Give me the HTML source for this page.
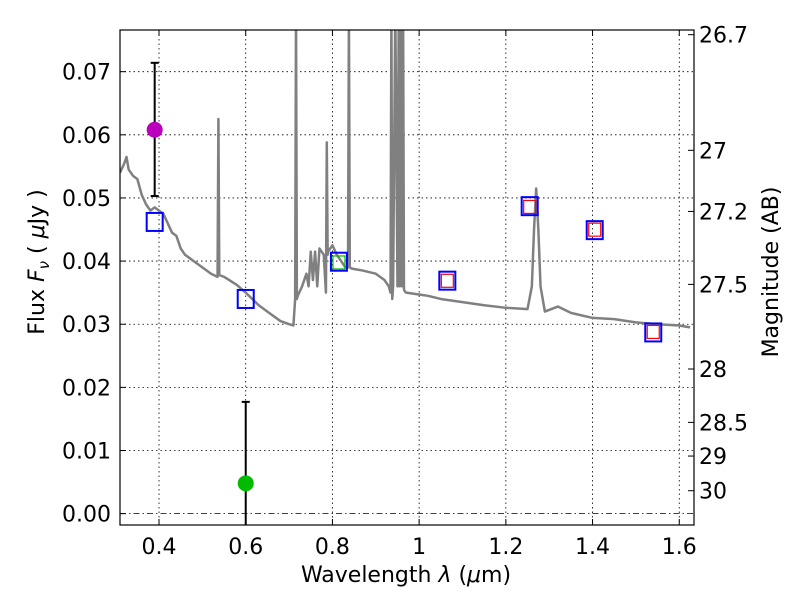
<!DOCTYPE html>
<html><head><meta charset="utf-8"><style>
body{margin:0;background:#fff}
svg text{font-family:"DejaVu Sans","Liberation Sans",sans-serif;font-size:22px;fill:#000}
</style></head><body>
<svg id="chart" width="800" height="600" xmlns="http://www.w3.org/2000/svg">
<defs><clipPath id="clip"><rect x="120" y="30" width="574" height="495"/></clipPath></defs>
<rect width="800" height="600" fill="#fff"/>
<g id="grid"></g>
<g id="spec" clip-path="url(#clip)"></g>
<g id="marks" clip-path="url(#clip)"></g>
<rect x="120" y="30" width="574" height="495" fill="none" stroke="#000" stroke-width="1.2"/>
<g id="axes"></g>
<text x="406" y="582" text-anchor="middle">Wavelength  <tspan font-style="italic">λ</tspan> (<tspan font-style="italic">μ</tspan>m)</text>
<text transform="translate(44,262) rotate(-90)" text-anchor="middle">Flux  <tspan font-style="italic">F</tspan><tspan font-style="italic" font-size="15" dy="5">ν</tspan><tspan dy="-5">  (  </tspan><tspan font-style="italic">μ</tspan>Jy )</text>
<text transform="translate(778,272) rotate(-90)" text-anchor="middle">Magnitude (AB)</text>
</svg>
<script>
const NS="http://www.w3.org/2000/svg";
const xTicks=[0.4,0.6,0.8,1.0,1.2,1.4,1.6];
const xTickLabels=["0.4","0.6","0.8","1","1.2","1.4","1.6"];
const yTicks=[0,0.01,0.02,0.03,0.04,0.05,0.06,0.07];
const yTickLabels=["0.00","0.01","0.02","0.03","0.04","0.05","0.06","0.07"];
const magTicks=[26.7,27,27.2,27.5,28,28.5,29,30];
const magLabels=["26.7","27","27.2","27.5","28","28.5","29","30"];
const specWl=[0.31,0.32,0.325,0.33,0.34,0.35,0.36,0.37,0.38,0.39,0.40,0.41,0.42,0.43,0.44,0.45,0.46,0.47,0.48,0.50,0.52,0.535,0.537,0.539,0.55,0.58,0.60,0.63,0.65,0.68,0.70,0.71,0.714,0.716,0.718,0.72,0.73,0.74,0.745,0.75,0.755,0.76,0.765,0.77,0.78,0.785,0.787,0.789,0.79,0.80,0.81,0.82,0.83,0.836,0.838,0.84,0.845,0.87,0.90,0.92,0.93,0.934,0.936,0.938,0.94,0.945,0.95,0.953,0.955,0.957,0.96,0.963,0.965,0.967,0.97,1.0,1.02,1.05,1.1,1.15,1.2,1.25,1.26,1.265,1.27,1.275,1.28,1.29,1.32,1.35,1.40,1.45,1.5,1.55,1.6,1.625];
const specFlux=[0.054,0.0555,0.0565,0.0545,0.0535,0.053,0.0505,0.049,0.048,0.0485,0.048,0.0475,0.046,0.0445,0.044,0.042,0.041,0.0405,0.040,0.039,0.038,0.0375,0.0625,0.0378,0.0375,0.0362,0.035,0.033,0.032,0.0305,0.0300,0.0298,0.034,0.08,0.034,0.0345,0.036,0.038,0.036,0.0415,0.037,0.0415,0.036,0.042,0.041,0.035,0.0588,0.041,0.0415,0.0425,0.041,0.040,0.039,0.039,0.08,0.039,0.0388,0.0385,0.038,0.037,0.036,0.035,0.08,0.034,0.036,0.08,0.036,0.08,0.036,0.08,0.036,0.08,0.0355,0.0352,0.035,0.0347,0.0345,0.034,0.0335,0.033,0.0326,0.0324,0.036,0.045,0.0515,0.045,0.036,0.032,0.0328,0.0318,0.031,0.0308,0.0303,0.0300,0.0298,0.0295];
const bandWl=[0.39,0.6,0.815,1.065,1.255,1.405,1.54];
const bandFlux=[0.0462,0.034,0.0399,0.0369,0.0487,0.0449,0.0287];
const innerWl=[0.815,1.065,1.255,1.405,1.54];
const innerFlux=[0.0397,0.0368,0.0485,0.0449,0.0287];
const innerColor=["#00bb00","red","red","red","red"];
const obsWl=[0.39,0.6];
const obsFlux=[0.0608,0.0048];
const obsLo=[0.0503,-0.01];
const obsHi=[0.0714,0.0177];
const obsColor=["#bb00bb","#00bb00"];
const X0=0.31,X1=1.634,Y0=-0.0018,Y1=0.0766,L=120,R=694,T=30,B=525;
const sx=v=>L+(v-X0)/(X1-X0)*(R-L);
const sy=v=>B-(v-Y0)/(Y1-Y0)*(B-T);
function mk(tag,attrs,parent){const e=document.createElementNS(NS,tag);for(const k in attrs)e.setAttribute(k,attrs[k]);parent.appendChild(e);return e;}
const grid=document.getElementById('grid'),axes=document.getElementById('axes');
xTicks.forEach((t,i)=>{const x=sx(t);
 let g=mk('line',{x1:x,x2:x,y1:T,y2:B,stroke:'#000','stroke-width':0.8,'stroke-dasharray':'1.5,3'},grid);
 
 mk('line',{x1:x,x2:x,y1:B,y2:B-6,stroke:'#000'},axes);mk('line',{x1:x,x2:x,y1:T,y2:T+6,stroke:'#000'},axes);
 let tx=mk('text',{x:x,y:B+29,'text-anchor':'middle'},axes);tx.textContent=xTickLabels[i];
 });
yTicks.forEach((t,i)=>{const y=sy(t);
 let g=mk('line',{x1:L,x2:R,y1:y,y2:y,stroke:'#000','stroke-width':0.8,'stroke-dasharray':t===0?'6,3,1.5,3':'1.5,3'},grid);
 
 mk('line',{x1:L,x2:L+6,y1:y,y2:y,stroke:'#000'},axes);
 let tx=mk('text',{x:L-9,y:y+8,'text-anchor':'end'},axes);tx.textContent=yTickLabels[i];
 });
magTicks.forEach((m,i)=>{const f=Math.pow(10,(23.9-m)/2.5);const y=sy(f);
 mk('line',{x1:R,x2:R-6,y1:y,y2:y,stroke:'#000'},axes);
 let tx=mk('text',{x:R+5,y:y+8,'text-anchor':'start'},axes);tx.textContent=magLabels[i];
 });
const spec=document.getElementById('spec');
let p=mk('polyline',{points:specWl.map((w,i)=>sx(w)+','+sy(specFlux[i])).join(' '),fill:'none',stroke:'#808080','stroke-width':2.5,'stroke-linejoin':'round'},spec);

const marks=document.getElementById('marks');
bandWl.forEach((w,i)=>{const x=sx(w),y=sy(bandFlux[i]);
 let r=mk('rect',{x:x-8,y:y-9,width:16,height:18,fill:'none',stroke:'#0000ff','stroke-width':2},marks);
 });
innerWl.forEach((w,i)=>{const x=sx(w),y=sy(innerFlux[i]);
 let r=mk('rect',{x:x-6,y:y-7,width:12,height:13,fill:'none',stroke:innerColor[i],'stroke-width':1.2},marks);
 });
obsWl.forEach((w,i)=>{const x=sx(w);
 const yh=sy(obsHi[i]),yl=Math.min(sy(obsLo[i]),B);
 let e=mk('line',{x1:x,x2:x,y1:yh,y2:yl,stroke:'#000','stroke-width':2},marks);
 
 mk('line',{x1:x-4,x2:x+4,y1:yh,y2:yh,stroke:'#000','stroke-width':2},marks);
 if(obsLo[i]>=Y0)mk('line',{x1:x-4,x2:x+4,y1:yl,y2:yl,stroke:'#000','stroke-width':2},marks);
 let c=mk('circle',{cx:x,cy:sy(obsFlux[i]),r:8,fill:obsColor[i]},marks);
 });
</script>
</body></html>
